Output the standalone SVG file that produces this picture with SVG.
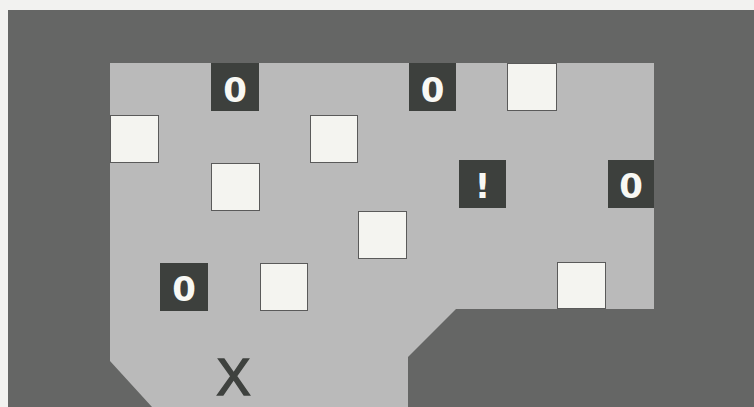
<svg xmlns="http://www.w3.org/2000/svg" width="754" height="407" viewBox="0 0 754 407">
<style>
.w{fill:#f4f4f0;stroke:#5a5a5a;stroke-width:1}
.d{fill:#3d403d}
.t{font-family:"DejaVu Sans",sans-serif;font-weight:bold;font-size:34px;fill:#f8f8f4;text-anchor:middle}
</style>
<rect x="0" y="0" width="754" height="407" fill="#f2f2f0"/>
<rect x="8" y="10" width="746" height="397" fill="#656665"/>
<polygon points="110,63 654,63 654,309 456,309 408,357 408,407 152,407 110,361" fill="#bababa"/>
<g id="white-squares">
<rect class="w" x="110.5" y="115.5" width="48" height="47"/>
<rect class="w" x="310.5" y="115.5" width="47" height="47"/>
<rect class="w" x="211.5" y="163.5" width="48" height="47"/>
<rect class="w" x="507.5" y="63.5" width="49" height="47"/>
<rect class="w" x="358.5" y="211.5" width="48" height="47"/>
<rect class="w" x="260.5" y="263.5" width="47" height="47"/>
<rect class="w" x="557.5" y="262.5" width="48" height="46"/>
</g>
<g id="tile-0-a"><rect class="d" x="211" y="63" width="48" height="48"/><text class="t" x="235" y="102">0</text></g>
<g id="tile-0-b"><rect class="d" x="409" y="63" width="47" height="48"/><text class="t" x="432.5" y="102">0</text></g>
<g id="tile-excl"><rect class="d" x="459" y="160" width="47" height="48"/><text class="t" x="482.5" y="198" font-size="38">!</text></g>
<g id="tile-0-c"><rect class="d" x="608" y="160" width="46" height="48"/><text class="t" x="631" y="198">0</text></g>
<g id="tile-0-d"><rect class="d" x="160" y="263" width="48" height="48"/><text class="t" x="184" y="301">0</text></g>
<g id="x-mark"><text x="233.5" y="395" font-family="Liberation Sans, sans-serif" font-size="51" fill="#3f423f" stroke="#3f423f" stroke-width="1.6" text-anchor="middle">X</text></g>
</svg>
